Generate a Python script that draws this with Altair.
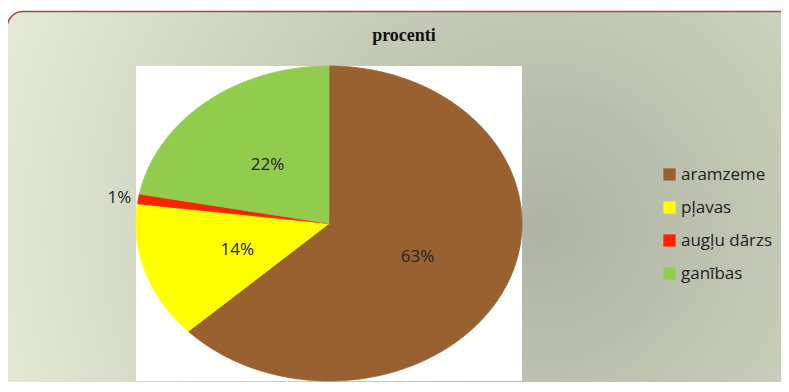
import math
import numpy as np
import pandas as pd
import altair as alt

title_text = "procenti"
categories = ["aramzeme", "pļavas", "augļu dārzs", "ganības"]
values = [63, 14, 1, 22]
labels = ["63%", "14%", "1%", "22%"]
colors = ["#9a6130", "#ffff00", "#ff2200", "#92cc4c"]

W, H = 773, 374

# ---- pie polygons (elliptical pie: angle from top, clockwise) ----
total = float(sum(values))
rows = []
lab_rows = []
cum = 0.0
for cat, v, lab in zip(categories, values, labels):
    a0 = cum / total * 2 * math.pi
    a1 = (cum + v) / total * 2 * math.pi
    n = max(3, int(v * 3.6 * 2) + 1)
    pts = [(0.0, 0.0)] + [(math.sin(t), math.cos(t)) for t in np.linspace(a0, a1, n)] + [(0.0, 0.0)]
    for k, (px, py) in enumerate(pts):
        rows.append({"cat": cat, "i": k, "x": px, "y": py})
    mid = (a0 + a1) / 2
    f = 0.5 if v >= 5 else 1.1
    lab_rows.append({"lab": lab, "x": f * math.sin(mid), "y": f * math.cos(mid)})
    cum += v

pie_df = pd.DataFrame(rows)
lab_df = pd.DataFrame(lab_rows)

xs = alt.Scale(domain=[-1, 1], range=[128, 514])
ys = alt.Scale(domain=[-1, 1], range=[373, 58])

one = pd.DataFrame({"a": [0]})

bg = alt.Chart(one).mark_rect(
    cornerRadius=16,
    stroke="#a24a44",
    strokeWidth=1.5,
    fill={
        "gradient": "radial",
        "x1": 0.68, "y1": 0.52, "r1": 0.0,
        "x2": 0.68, "y2": 0.52, "r2": 0.78,
        "stops": [
            {"offset": 0.0, "color": "#aeb3a3"},
            {"offset": 0.45, "color": "#c8cdb9"},
            {"offset": 1.0, "color": "#e8eed8"},
        ],
    },
).encode(x=alt.value(-1), x2=alt.value(W + 15), y=alt.value(3.5), y2=alt.value(H + 30))

title = alt.Chart(one).mark_text(
    text=title_text, font="Liberation Serif", fontWeight="bold", fontSize=18,
    color="#111111", align="center", baseline="middle",
).encode(x=alt.value(396), y=alt.value(28))

square_df = pd.DataFrame({"x0": [-1], "x1": [1], "y0": [-1], "y1": [1]})
square = alt.Chart(square_df).mark_rect(fill="#ffffff").encode(
    x=alt.X("x0:Q", scale=xs, axis=None), x2="x1:Q",
    y=alt.Y("y0:Q", scale=ys, axis=None), y2="y1:Q",
)

pie = alt.Chart(pie_df).mark_line(strokeWidth=0.8, interpolate="linear").encode(
    x=alt.X("x:Q", scale=xs, axis=None),
    y=alt.Y("y:Q", scale=ys, axis=None),
    detail="cat:N",
    order="i:Q",
    fill=alt.Fill(
        "cat:N",
        scale=alt.Scale(domain=categories, range=colors),
        legend=alt.Legend(
            title=None, orient="none", legendX=653, legendY=158,
            symbolType="square", symbolSize=150, symbolStrokeWidth=0,
            labelFont="Open Sans", labelFontSize=17, labelColor="#222222",
            rowPadding=15, labelOffset=3, labelLimit=300, padding=0,
        ),
    ),
    stroke=alt.Stroke("cat:N", scale=alt.Scale(domain=categories, range=colors), legend=None),
)

text = alt.Chart(lab_df).mark_text(
    font="Open Sans", fontSize=17, color="#222222", align="center", baseline="middle", dy=2
).encode(
    x=alt.X("x:Q", scale=xs, axis=None),
    y=alt.Y("y:Q", scale=ys, axis=None),
    text="lab:N",
)

chart = alt.layer(bg, title, square, pie, text).properties(
    width=W, height=H, autosize=alt.AutoSizeParams(type="none"), padding=0,
).configure_view(stroke=None)

chart.save("out.html", embed_options={"renderer": "svg", "actions": False})
